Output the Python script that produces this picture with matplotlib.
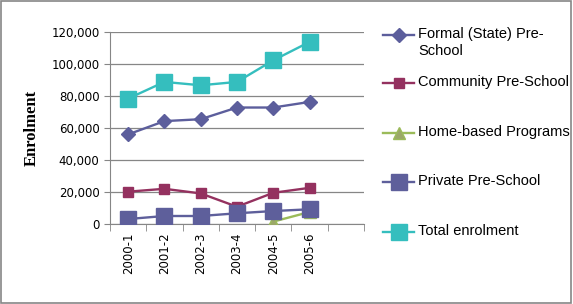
import matplotlib.pyplot as plt
from matplotlib.lines import Line2D
from matplotlib.ticker import FuncFormatter, FixedLocator
import numpy as np

years = ["2000-1", "2001-2", "2002-3", "2003-4", "2004-5", "2005-6"]
formal = [56000, 64300, 65500, 72800, 72800, 76300]
community = [20200, 22000, 19100, 10800, 19500, 22600]
home_years = ["2004-5", "2005-6"]
home_based = [1500, 7500]
private = [3100, 5000, 5000, 6700, 8100, 9200]
total = [78400, 88800, 86700, 88800, 102300, 113800]

W, H = 573, 304
fig = plt.figure(figsize=(W / 100, H / 100), dpi=100)
ax = fig.add_axes([110 / W, 1 - 224 / H, 254 / W, 192 / H])

x = np.arange(len(years))
hx = [years.index(y) for y in home_years]

lines = []
lines.append(ax.plot(x, formal, color="#5C5E9C", lw=1.7, marker="D", ms=7.5,
                     label="Formal (State) Pre-\nSchool", zorder=3)[0])
lines.append(ax.plot(x, community, color="#94315F", lw=1.7, marker="s", ms=7,
                     label="Community Pre-School", zorder=3)[0])
lines.append(ax.plot(hx, home_based, color="#9BBB59", lw=1.7, marker="^", ms=8,
                     markerfacecolor="#9BA868", markeredgecolor="#9BBB59",
                     label="Home-based Programs", zorder=3)[0])
lines.append(ax.plot(x, private, color="#5E5F9B", lw=1.7, marker="s", ms=11,
                     label="Private Pre-School", zorder=4)[0])
lines.append(ax.plot(x, total, color="#35BEBE", lw=1.7, marker="s", ms=11,
                     label="Total enrolment", zorder=3)[0])

ax.set_xlim(-0.5, 6.5)
ax.set_ylim(0, 120000)
ax.set_yticks(range(0, 120001, 20000))
ax.yaxis.set_major_formatter(FuncFormatter(lambda v, p: f"{int(v):,}"))
ax.set_xticks(x)
ax.set_xticklabels(years, rotation=90, fontsize=8.5)
ax.xaxis.set_minor_locator(FixedLocator(np.arange(-0.5, 7, 1)))
ax.tick_params(axis="x", which="major", length=0, pad=6)
ax.tick_params(axis="x", which="minor", length=5, color="#868686")
ax.tick_params(axis="y", length=4, color="#868686", labelsize=8.5)
ax.grid(axis="y", color="#868686", lw=0.9)
ax.set_axisbelow(True)
for s in ["top", "right"]:
    ax.spines[s].set_visible(False)
for s in ["left", "bottom"]:
    ax.spines[s].set_color("#868686")

ax.set_ylabel("Enrolment", family="Liberation Serif", fontweight="bold",
              fontsize=12, labelpad=8)

# legend drawn by hand so entries sit evenly spaced like the original
legend_y = [35, 83, 133, 182, 232]
for ln, yy in zip(lines, legend_y):
    fy = 1 - yy / H
    h = Line2D([383 / W, 414 / W], [fy, fy], transform=fig.transFigure,
               color=ln.get_color(), lw=ln.get_linewidth())
    m = Line2D([398.5 / W], [fy], transform=fig.transFigure, ls="none",
               marker=ln.get_marker(), ms=ln.get_markersize(),
               markerfacecolor=ln.get_markerfacecolor(),
               markeredgecolor=ln.get_markeredgecolor())
    fig.lines.extend([h, m])
    fig.text(418 / W, 1 - (yy - 8) / H, ln.get_label(), va="top", ha="left",
             family="Liberation Sans", fontsize=10.5, linespacing=1.3)

fig.patches.append(plt.Rectangle((0.002, 0.003), 0.995, 0.994,
                                 transform=fig.transFigure, fill=False,
                                 edgecolor="#868686", lw=1.2))

fig.savefig("out.png", dpi=100)
